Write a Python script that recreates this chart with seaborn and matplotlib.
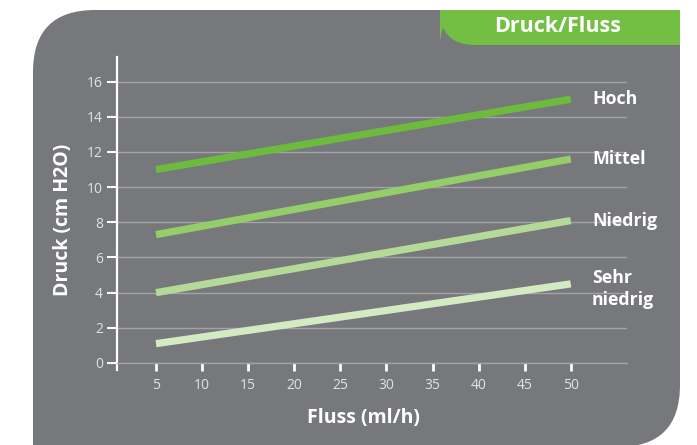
import matplotlib.pyplot as plt
import pandas as pd
import seaborn as sns
from matplotlib.patches import FancyBboxPatch, Rectangle

sns.set_theme(style="ticks")
plt.rcParams["font.family"] = ["Open Sans", "DejaVu Sans"]

flow = [5, 50]
hoch = [11.0, 15.0]
mittel = [7.3, 11.6]
niedrig = [4.0, 8.1]
sehr_niedrig = [1.1, 4.5]
series_names = ["Hoch", "Mittel", "Niedrig", "Sehr\nniedrig"]
colors = ["#6cbb3c", "#95cd6b", "#b4da97", "#d4eac3"]
x_ticks = [5, 10, 15, 20, 25, 30, 35, 40, 45, 50]
y_ticks = [0, 2, 4, 6, 8, 10, 12, 14, 16]

panel_grey = "#77787c"
tab_green = "#72bf44"
grid_grey = "#a3a3a7"
tick_text = "#e2e2e2"

rows = []
for name, values in zip(series_names, [hoch, mittel, niedrig, sehr_niedrig]):
    for x, y in zip(flow, values):
        rows.append({"Fluss": x, "Druck": y, "Stufe": name})
df = pd.DataFrame(rows)

fig = plt.figure(figsize=(6.97, 4.45), dpi=100)
fig.patch.set_facecolor("white")

# background panel, drawn in pixel coordinates
bg = fig.add_axes([0, 0, 1, 1])
bg.set_xlim(0, 697)
bg.set_ylim(445, 0)
bg.axis("off")
bg.add_patch(FancyBboxPatch((33, 10), 647, 437, boxstyle="round,pad=0,rounding_size=62",
                            fc=panel_grey, ec="none"))
bg.add_patch(Rectangle((33, 300), 80, 150, fc=panel_grey, ec="none"))
bg.add_patch(Rectangle((600, 10), 80, 80, fc=panel_grey, ec="none"))
# green title tab
bg.add_patch(FancyBboxPatch((440, 10), 240, 35, boxstyle="round,pad=0,rounding_size=35",
                            fc=tab_green, ec="none"))
bg.add_patch(Rectangle((440, 10), 240, 17, fc=tab_green, ec="none"))
bg.add_patch(Rectangle((520, 10), 160, 35, fc=tab_green, ec="none"))
bg.text(558, 27, "Druck/Fluss", color="white", fontsize=15.5, fontweight="bold",
        ha="center", va="center")

ax = fig.add_axes([117 / 697, 82 / 445, 510 / 697, 306 / 445])
ax.patch.set_alpha(0)
sns.lineplot(data=df, x="Fluss", y="Druck", hue="Stufe", palette=dict(zip(series_names, colors)),
             linewidth=5.2, legend=False, ax=ax, solid_capstyle="butt")

ax.set_xlim(0.77, 56.1)
ax.set_ylim(0, 17.4)
ax.set_xticks(x_ticks)
ax.set_yticks(y_ticks)
ax.grid(axis="y", color=grid_grey, linewidth=1)
ax.set_axisbelow(True)

for side in ["top", "right"]:
    ax.spines[side].set_visible(False)
ax.spines["left"].set_color("white")
ax.spines["left"].set_linewidth(1.6)
ax.spines["left"].set_bounds(-0.4, 17.4)
ax.spines["bottom"].set_color(grid_grey)
ax.spines["bottom"].set_linewidth(1)

ax.tick_params(axis="y", colors="white", length=7, width=1.5, pad=3, labelsize=10,
               labelcolor=tick_text)
ax.tick_params(axis="x", colors="white", length=6, width=2, pad=5, labelsize=10,
               labelcolor=tick_text)

for name, values, color in zip(series_names, [hoch, mittel, niedrig, sehr_niedrig], colors):
    y = values[-1] - (0.3 if "\n" in name else 0)
    ax.text(52.3, y, name, color="white", fontsize=12.8, fontweight="bold",
            va="center", ha="left", linespacing=1.25)

ax.set_xlabel("Fluss (ml/h)", color="white", fontsize=14, fontweight="bold")
ax.xaxis.set_label_coords(0.484, -0.18)
ax.xaxis.label.set_va("center")
ax.set_ylabel("Druck (cm H2O)", color="white", fontsize=14, fontweight="bold")
ax.yaxis.set_label_coords(-0.106, 0.467)
ax.yaxis.label.set_va("center")

fig.savefig("out.png", dpi=100)
